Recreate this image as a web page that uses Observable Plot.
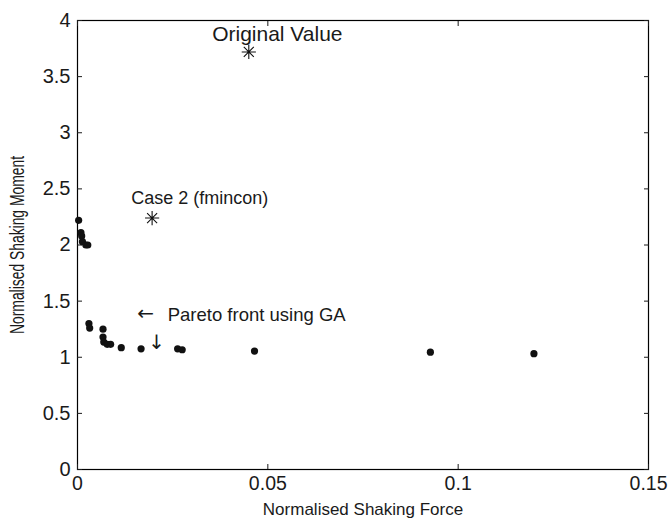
<!DOCTYPE html>
<html>
<head>
<meta charset="utf-8">
<script src="https://cdn.jsdelivr.net/npm/d3@7"></script>
<script src="https://cdn.jsdelivr.net/npm/@observablehq/plot@0.6"></script>
<style>
  html, body { margin: 0; padding: 0; background: #fff; }
</style>
</head>
<body>
<div id="chart"></div>
<script>
// Pareto front points (GA)
const paretoForce = [0.0003, 0.0009, 0.0011, 0.0013, 0.0022, 0.0027,
  0.0030, 0.0032, 0.0067, 0.0067, 0.0069, 0.0078, 0.0087, 0.0115, 0.0167,
  0.0263, 0.0275, 0.0465, 0.0927, 0.1199];
const paretoMoment = [2.22, 2.11, 2.08, 2.03, 2.00, 2.00,
  1.30, 1.26, 1.25, 1.18, 1.135, 1.115, 1.115, 1.085, 1.075,
  1.075, 1.067, 1.055, 1.045, 1.032];

// Single solutions (asterisks)
const starForce = [0.045, 0.0196];
const starMoment = [3.72, 2.24];

// Annotations
const noteText = ["Original Value", "Case 2 (fmincon)", "Pareto front using GA"];
const noteX = [0.0525, 0.0141, 0.0237];
const noteY = [3.88, 2.42, 1.38];
const noteAnchor = ["middle", "start", "start"];
const noteSize = [21, 18, 18.5];

const arrowText = ["\u2190", "\u2193"];
const arrowX = [0.0157, 0.0186];
const arrowY = [1.385, 1.135];

const xTicks = [0, 0.05, 0.1, 0.15];
const yTicks = [0, 0.5, 1, 1.5, 2, 2.5, 3, 3.5, 4];

const pareto = paretoForce.map((x, i) => ({x, y: paretoMoment[i]}));
const stars = starForce.map((x, i) => ({x, y: starMoment[i]}));
const notes = noteText.map((t, i) => ({t, x: noteX[i], y: noteY[i], a: noteAnchor[i], s: noteSize[i]}));
const arrows = arrowText.map((t, i) => ({t, x: arrowX[i], y: arrowY[i]}));

const asterisk = {
  draw(ctx, size) {
    const r = Math.sqrt(size) / 2;
    const d = r * Math.SQRT1_2;
    ctx.moveTo(-r, 0); ctx.lineTo(r, 0);
    ctx.moveTo(0, -r); ctx.lineTo(0, r);
    ctx.moveTo(-d, -d); ctx.lineTo(d, d);
    ctx.moveTo(-d, d); ctx.lineTo(d, -d);
  }
};

const fmt = d => String(d);
const ink = "#1a1a1a";

const chart = Plot.plot({
  width: 670,
  height: 525,
  marginLeft: 77,
  marginRight: 22,
  marginTop: 20,
  marginBottom: 56,
  style: {fontFamily: "'Liberation Sans', Arial, sans-serif", fontSize: "17px", color: ink, background: "#fff"},
  x: {domain: [0, 0.15]},
  y: {domain: [0, 4]},
  marks: [
    Plot.frame({stroke: "#000", strokeWidth: 1.2}),
    Plot.axisX({anchor: "bottom", ticks: xTicks, tickFormat: fmt, tickSize: -5, tickPadding: 12, fontSize: 19.5,
      label: null}),
    Plot.axisX({anchor: "bottom", ticks: [], label: "Normalised Shaking Force", labelAnchor: "center",
      labelOffset: 45, labelArrow: false, fontSize: 17}),
    Plot.axisX({anchor: "top", ticks: xTicks, tickFormat: () => "", tickSize: -5, label: null}),
    Plot.axisY({anchor: "left", ticks: yTicks, tickFormat: fmt, tickSize: -5, tickPadding: 12, fontSize: 20,
      label: null}),
    Plot.axisY({anchor: "left", ticks: [], label: "Normalised Shaking Moment", labelAnchor: "center",
      labelOffset: 67, labelArrow: false, fontSize: 19.5}),
    Plot.axisY({anchor: "right", ticks: yTicks, tickFormat: () => "", tickSize: -5, label: null}),
    Plot.dot(pareto, {x: "x", y: "y", r: 3.6, fill: "#111", stroke: "none"}),
    Plot.dot(stars, {x: "x", y: "y", symbol: asterisk, r: 8, stroke: "#111", fill: "none", strokeWidth: 1.1}),
    Plot.text(notes, {x: "x", y: "y", text: "t", textAnchor: "start", fontSize: "s", fill: ink,
      filter: d => d.a === "start"}),
    Plot.text(notes, {x: "x", y: "y", text: "t", textAnchor: "middle", fontSize: "s", fill: ink,
      filter: d => d.a === "middle"}),
    Plot.text(arrows, {x: "x", y: "y", text: "t", textAnchor: "start", fontSize: 20, fill: ink,
      fontFamily: "'DejaVu Sans', sans-serif"})
  ]
});
// condense the rotated y label to the reference's length
d3.select(chart).selectAll('g[aria-label="y-axis label"] text')
  .attr("textLength", 178).attr("lengthAdjust", "spacingAndGlyphs");
document.getElementById("chart").appendChild(chart);
</script>
</body>
</html>
